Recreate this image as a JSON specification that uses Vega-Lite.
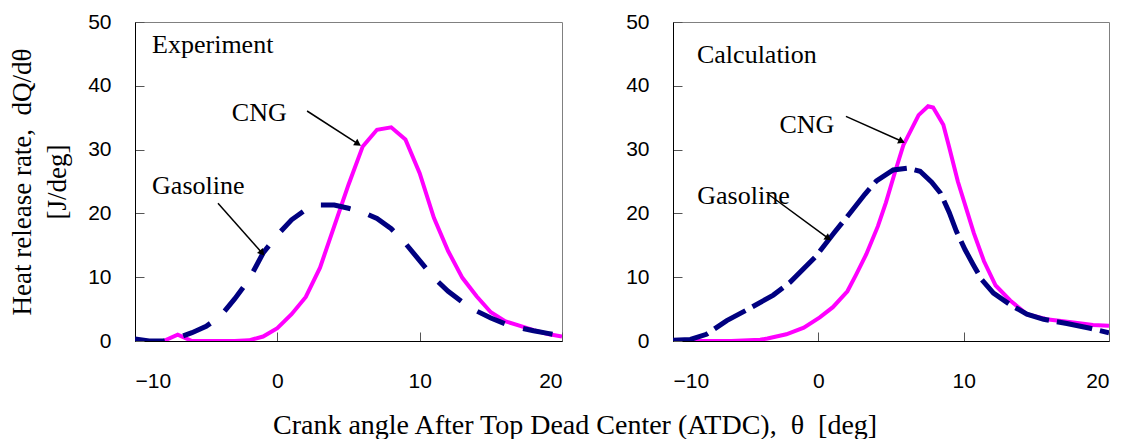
{
  "$schema": "https://vega.github.io/schema/vega-lite/v6.json",
  "padding": {"left": 8, "top": 10, "right": 0, "bottom": 5},
  "background": "white",
  "title": {"text": "Crank angle After Top Dead Center (ATDC),\u00a0\u00a0θ\u00a0\u00a0[deg]", "orient": "bottom", "anchor": "middle", "font": "Liberation Serif", "fontSize": 28, "fontWeight": "normal", "color": "black", "offset": 20, "dx": 16},
  "config": {
    "view": {"stroke": "#808080", "strokeWidth": 1},
    "axis": {"labelFont": "Liberation Sans", "labelFontSize": 21, "labelColor": "black", "domainColor": "black", "tickColor": "#555", "tickSize": -9, "grid": false, "titleFont": "Liberation Serif", "titleFontSize": 27, "titleFontWeight": "normal", "titleColor": "black"},
    "axisX": {"labelPadding": 38, "labelAngle": 0},
    "axisY": {"labelPadding": 33}
  },
  "datasets": {
    "exp": [
      {"fuel": "CNG", "theta": -10, "q": 0}, {"fuel": "CNG", "theta": -9, "q": 0}, {"fuel": "CNG", "theta": -8, "q": 0}, {"fuel": "CNG", "theta": -7, "q": 1.0}, {"fuel": "CNG", "theta": -6, "q": 0}, {"fuel": "CNG", "theta": -5, "q": 0}, {"fuel": "CNG", "theta": -4, "q": 0}, {"fuel": "CNG", "theta": -3, "q": 0}, {"fuel": "CNG", "theta": -2, "q": 0.1}, {"fuel": "CNG", "theta": -1, "q": 0.7}, {"fuel": "CNG", "theta": 0, "q": 2.0}, {"fuel": "CNG", "theta": 1, "q": 4.2}, {"fuel": "CNG", "theta": 2, "q": 6.9}, {"fuel": "CNG", "theta": 3, "q": 11.5}, {"fuel": "CNG", "theta": 4, "q": 18.0}, {"fuel": "CNG", "theta": 5, "q": 24.5}, {"fuel": "CNG", "theta": 6, "q": 30.5}, {"fuel": "CNG", "theta": 7, "q": 33.1}, {"fuel": "CNG", "theta": 8, "q": 33.5}, {"fuel": "CNG", "theta": 9, "q": 31.6}, {"fuel": "CNG", "theta": 10, "q": 26.3}, {"fuel": "CNG", "theta": 11, "q": 19.3}, {"fuel": "CNG", "theta": 12, "q": 14.1}, {"fuel": "CNG", "theta": 13, "q": 9.9}, {"fuel": "CNG", "theta": 14, "q": 7.0}, {"fuel": "CNG", "theta": 15, "q": 4.5}, {"fuel": "CNG", "theta": 16, "q": 3.1}, {"fuel": "CNG", "theta": 17, "q": 2.4}, {"fuel": "CNG", "theta": 18, "q": 1.7}, {"fuel": "CNG", "theta": 19, "q": 1.1}, {"fuel": "CNG", "theta": 20, "q": 0.7},
      {"fuel": "Gasoline", "theta": -10, "q": 0.3}, {"fuel": "Gasoline", "theta": -9, "q": 0}, {"fuel": "Gasoline", "theta": -8, "q": 0}, {"fuel": "Gasoline", "theta": -7, "q": 0.5}, {"fuel": "Gasoline", "theta": -6, "q": 1.3}, {"fuel": "Gasoline", "theta": -5, "q": 2.3}, {"fuel": "Gasoline", "theta": -4, "q": 3.9}, {"fuel": "Gasoline", "theta": -3, "q": 6.6}, {"fuel": "Gasoline", "theta": -2, "q": 9.6}, {"fuel": "Gasoline", "theta": -1, "q": 13.8}, {"fuel": "Gasoline", "theta": 0, "q": 16.6}, {"fuel": "Gasoline", "theta": 1, "q": 19.0}, {"fuel": "Gasoline", "theta": 2, "q": 20.6}, {"fuel": "Gasoline", "theta": 3, "q": 21.3}, {"fuel": "Gasoline", "theta": 4, "q": 21.3}, {"fuel": "Gasoline", "theta": 5, "q": 20.8}, {"fuel": "Gasoline", "theta": 6, "q": 20.2}, {"fuel": "Gasoline", "theta": 7, "q": 19.2}, {"fuel": "Gasoline", "theta": 8, "q": 17.6}, {"fuel": "Gasoline", "theta": 9, "q": 15.3}, {"fuel": "Gasoline", "theta": 10, "q": 12.6}, {"fuel": "Gasoline", "theta": 11, "q": 9.9}, {"fuel": "Gasoline", "theta": 12, "q": 7.8}, {"fuel": "Gasoline", "theta": 13, "q": 6.1}, {"fuel": "Gasoline", "theta": 14, "q": 4.7}, {"fuel": "Gasoline", "theta": 15, "q": 3.6}, {"fuel": "Gasoline", "theta": 16, "q": 2.7}, {"fuel": "Gasoline", "theta": 17, "q": 2.1}, {"fuel": "Gasoline", "theta": 18, "q": 1.6}, {"fuel": "Gasoline", "theta": 19, "q": 1.2}, {"fuel": "Gasoline", "theta": 20, "q": 0.8}
    ],
    "calc": [
      {"fuel": "CNG", "theta": -10, "q": 0}, {"fuel": "CNG", "theta": -8, "q": 0}, {"fuel": "CNG", "theta": -6, "q": 0}, {"fuel": "CNG", "theta": -4, "q": 0.2}, {"fuel": "CNG", "theta": -3.5, "q": 0.4}, {"fuel": "CNG", "theta": -2.2, "q": 1.05}, {"fuel": "CNG", "theta": -1.0, "q": 2.1}, {"fuel": "CNG", "theta": 0.1, "q": 3.7}, {"fuel": "CNG", "theta": 1.0, "q": 5.3}, {"fuel": "CNG", "theta": 2.0, "q": 7.8}, {"fuel": "CNG", "theta": 2.6, "q": 10.4}, {"fuel": "CNG", "theta": 3.3, "q": 13.6}, {"fuel": "CNG", "theta": 4.1, "q": 18.0}, {"fuel": "CNG", "theta": 4.65, "q": 21.7}, {"fuel": "CNG", "theta": 5.2, "q": 25.9}, {"fuel": "CNG", "theta": 5.85, "q": 30.7}, {"fuel": "CNG", "theta": 6.9, "q": 35.4}, {"fuel": "CNG", "theta": 7.55, "q": 36.8}, {"fuel": "CNG", "theta": 7.9, "q": 36.6}, {"fuel": "CNG", "theta": 8.6, "q": 33.9}, {"fuel": "CNG", "theta": 9.0, "q": 30.4}, {"fuel": "CNG", "theta": 9.6, "q": 25.0}, {"fuel": "CNG", "theta": 10.2, "q": 20.6}, {"fuel": "CNG", "theta": 10.7, "q": 16.9}, {"fuel": "CNG", "theta": 11.4, "q": 12.5}, {"fuel": "CNG", "theta": 12.2, "q": 8.7}, {"fuel": "CNG", "theta": 13.2, "q": 6.35}, {"fuel": "CNG", "theta": 14.35, "q": 4.2}, {"fuel": "CNG", "theta": 15.7, "q": 3.4}, {"fuel": "CNG", "theta": 17.55, "q": 2.9}, {"fuel": "CNG", "theta": 18.9, "q": 2.5}, {"fuel": "CNG", "theta": 20, "q": 2.4},
      {"fuel": "Gasoline", "theta": -10, "q": 0.1}, {"fuel": "Gasoline", "theta": -8.8, "q": 0.25}, {"fuel": "Gasoline", "theta": -7.7, "q": 1.05}, {"fuel": "Gasoline", "theta": -6.3, "q": 3.2}, {"fuel": "Gasoline", "theta": -4.9, "q": 4.9}, {"fuel": "Gasoline", "theta": -3.1, "q": 7.2}, {"fuel": "Gasoline", "theta": -1.95, "q": 9.2}, {"fuel": "Gasoline", "theta": -0.2, "q": 13.2}, {"fuel": "Gasoline", "theta": 1.1, "q": 17.0}, {"fuel": "Gasoline", "theta": 2.2, "q": 20.1}, {"fuel": "Gasoline", "theta": 3.2, "q": 23.0}, {"fuel": "Gasoline", "theta": 4.0, "q": 25.1}, {"fuel": "Gasoline", "theta": 5.15, "q": 26.8}, {"fuel": "Gasoline", "theta": 6.2, "q": 27.1}, {"fuel": "Gasoline", "theta": 7.0, "q": 26.6}, {"fuel": "Gasoline", "theta": 7.8, "q": 24.9}, {"fuel": "Gasoline", "theta": 8.4, "q": 23.2}, {"fuel": "Gasoline", "theta": 9.0, "q": 20.2}, {"fuel": "Gasoline", "theta": 9.5, "q": 17.2}, {"fuel": "Gasoline", "theta": 10.1, "q": 14.3}, {"fuel": "Gasoline", "theta": 10.65, "q": 12.0}, {"fuel": "Gasoline", "theta": 11.25, "q": 9.6}, {"fuel": "Gasoline", "theta": 12.05, "q": 7.5}, {"fuel": "Gasoline", "theta": 13.2, "q": 5.7}, {"fuel": "Gasoline", "theta": 14.35, "q": 4.2}, {"fuel": "Gasoline", "theta": 15.5, "q": 3.4}, {"fuel": "Gasoline", "theta": 17.1, "q": 2.75}, {"fuel": "Gasoline", "theta": 18.7, "q": 2.0}, {"fuel": "Gasoline", "theta": 20, "q": 1.3}
    ],
    "expText": [
      {"label": "Experiment", "theta": -8.8, "q": 46.4},
      {"label": "CNG", "theta": -3.2, "q": 35.7},
      {"label": "Gasoline", "theta": -8.8, "q": 24.3}
    ],
    "expArrows": [
      {"label": "CNG", "theta": 2.09, "q": 36.05, "theta2": 5.67, "q2": 30.9},
      {"label": "Gasoline", "theta": -4.17, "q": 21.6, "theta2": -1.07, "q2": 13.8}
    ],
    "calcText": [
      {"label": "Calculation", "theta": -8.35, "q": 44.8},
      {"label": "CNG", "theta": -2.68, "q": 33.8},
      {"label": "Gasoline", "theta": -8.33, "q": 22.7}
    ],
    "calcArrows": [
      {"label": "CNG", "theta": 1.9, "q": 35.2, "theta2": 5.74, "q2": 31.3},
      {"label": "Gasoline", "theta": -3.44, "q": 23.0, "theta2": 0.69, "q2": 16.1}
    ]
  },
  "spacing": 111,
  "bounds": "flush",
  "hconcat": [
    {
      "width": 427,
      "height": 319,
      "encoding": {
        "x": {"field": "theta", "type": "quantitative", "scale": {"domain": [-10, 20], "nice": false, "zero": false}, "axis": {"values": [-10, 0, 10, 20], "title": null}},
        "y": {"field": "q", "type": "quantitative", "scale": {"domain": [0, 50], "nice": false}, "axis": {"values": [0, 10, 20, 30, 40, 50], "title": ["Heat release rate,\u00a0\u00a0dQ/dθ", "[J/deg]"], "titleLineHeight": 35, "titlePadding": 16}}
      },
      "layer": [
        {"data": {"name": "exp"}, "transform": [{"filter": "datum.fuel === 'CNG'"}], "mark": {"type": "line", "color": "#FF00FF", "strokeWidth": 4, "clip": true}},
        {"data": {"name": "exp"}, "transform": [{"filter": "datum.fuel === 'Gasoline'"}], "mark": {"type": "line", "color": "#000080", "strokeWidth": 5, "strokeDash": [30, 19], "strokeCap": "butt", "clip": true}},
        {"data": {"name": "expText"}, "mark": {"type": "text", "align": "left", "baseline": "middle", "font": "Liberation Serif", "fontSize": 26, "color": "black"}, "encoding": {"text": {"field": "label"}}},
        {"data": {"name": "expArrows"}, "mark": {"type": "rule", "color": "black", "strokeWidth": 1.5}, "encoding": {"x2": {"field": "theta2"}, "y2": {"field": "q2"}}},
        {"data": {"name": "expArrows"}, "mark": {"type": "point", "shape": "triangle-up", "filled": true, "color": "black", "opacity": 1, "size": 60}, "encoding": {"x": {"field": "theta2", "type": "quantitative"}, "y": {"field": "q2", "type": "quantitative"}, "angle": {"condition": {"test": "datum.label === 'CNG'", "value": 123}, "value": 139}}}
      ]
    },
    {
      "width": 436,
      "height": 319,
      "encoding": {
        "x": {"field": "theta", "type": "quantitative", "scale": {"domain": [-10, 20], "nice": false, "zero": false}, "axis": {"values": [-10, 0, 10, 20], "title": null}},
        "y": {"field": "q", "type": "quantitative", "scale": {"domain": [0, 50], "nice": false}, "axis": {"values": [0, 10, 20, 30, 40, 50], "title": null}}
      },
      "layer": [
        {"data": {"name": "calc"}, "transform": [{"filter": "datum.fuel === 'CNG'"}], "mark": {"type": "line", "color": "#FF00FF", "strokeWidth": 4, "clip": true}},
        {"data": {"name": "calc"}, "transform": [{"filter": "datum.fuel === 'Gasoline'"}], "mark": {"type": "line", "color": "#000080", "strokeWidth": 5, "strokeDash": [36, 8], "strokeCap": "butt", "clip": true}},
        {"data": {"name": "calcText"}, "mark": {"type": "text", "align": "left", "baseline": "middle", "font": "Liberation Serif", "fontSize": 26, "color": "black"}, "encoding": {"text": {"field": "label"}}},
        {"data": {"name": "calcArrows"}, "mark": {"type": "rule", "color": "black", "strokeWidth": 1.5}, "encoding": {"x2": {"field": "theta2"}, "y2": {"field": "q2"}}},
        {"data": {"name": "calcArrows"}, "mark": {"type": "point", "shape": "triangle-up", "filled": true, "color": "black", "opacity": 1, "size": 60}, "encoding": {"x": {"field": "theta2", "type": "quantitative"}, "y": {"field": "q2", "type": "quantitative"}, "angle": {"condition": {"test": "datum.label === 'CNG'", "value": 114}, "value": 126}}}
      ]
    }
  ]
}
